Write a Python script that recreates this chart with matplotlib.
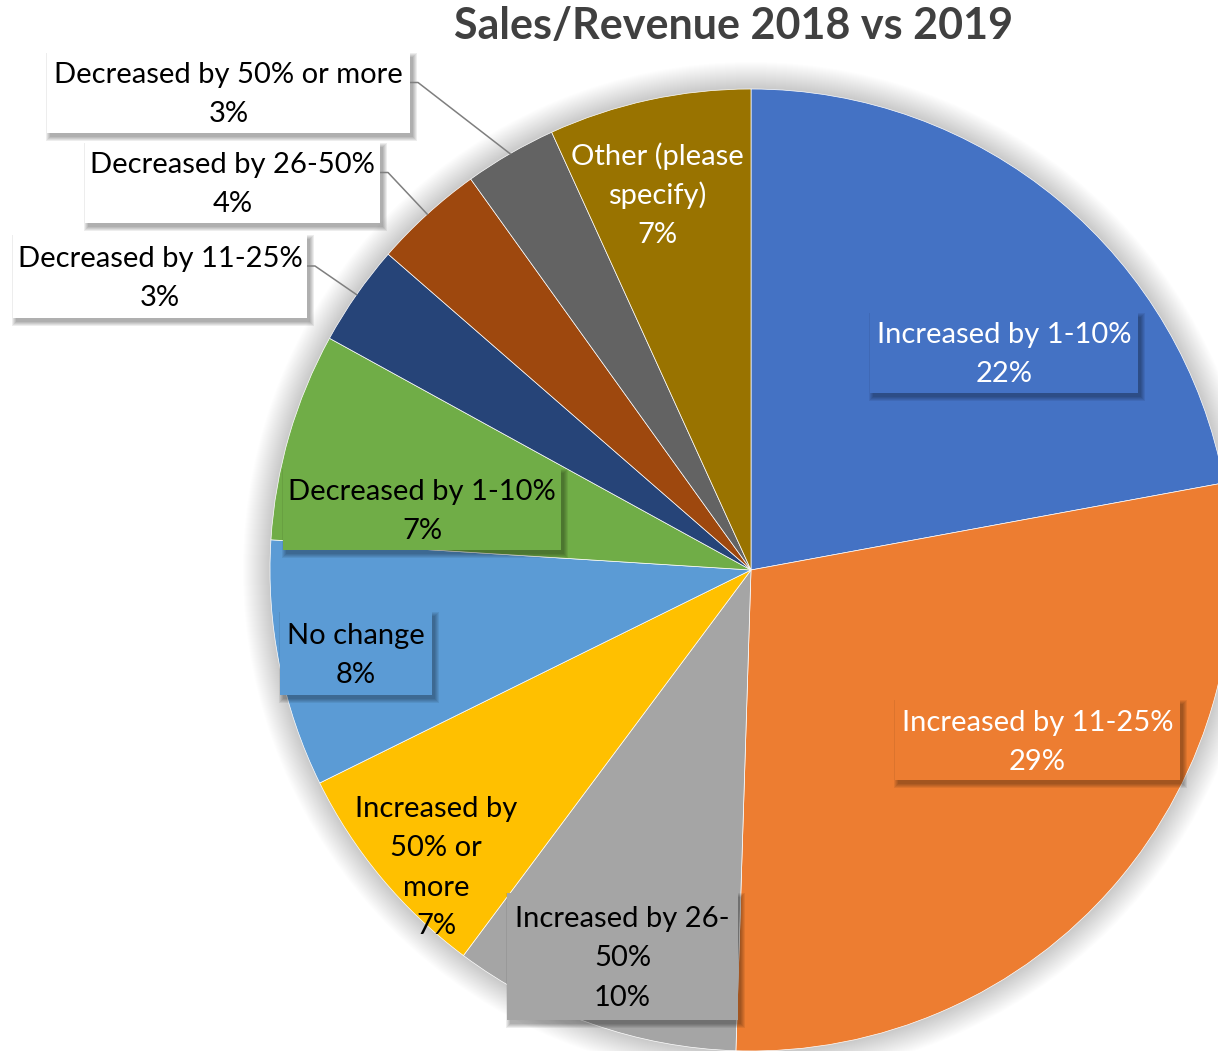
import matplotlib
matplotlib.use("Agg")
import numpy as np
from matplotlib import pyplot as plt
from matplotlib.patches import Circle, Rectangle

W, H = 1218, 1051
plt.rcParams['font.family'] = ['Lato', 'DejaVu Sans']

# data (clockwise from 12 o'clock)
categories = [
    "Increased by 1-10%", "Increased by 11-25%", "Increased by 26-50%",
    "Increased by 50% or more", "No change", "Decreased by 1-10%",
    "Decreased by 11-25%", "Decreased by 26-50%", "Decreased by 50% or more",
    "Other (please specify)",
]
shares = [22.1, 28.4, 9.7, 7.5, 8.3, 7.0, 3.4, 3.7, 3.1, 6.8]
pct_labels = ["22%", "29%", "10%", "7%", "8%", "7%", "3%", "4%", "3%", "7%"]
colors = ["#4472C4", "#ED7D31", "#A5A5A5", "#FFC000", "#5B9BD5",
          "#70AD47", "#264478", "#9E480E", "#636363", "#997300"]

# how Excel wrapped the longer labels
wrapped = {
    "Increased by 26-50%": "Increased by 26-\n50%",
    "Increased by 50% or more": "Increased by\n50% or\nmore",
    "Other (please specify)": "Other (please\nspecify)",
}

# label layout in image pixels: box (x0, y0, x1, y1) or None, text centre, fill, text colour
layout = [
    ((870, 313, 1138, 393), None, "slice", "white"),
    ((895, 700, 1180, 780), None, "slice", "white"),
    ((507, 893, 738, 1020), None, "slice", "black"),
    (None, (436, 866), None, "black"),
    ((280, 612, 432, 695), None, "slice", "black"),
    ((283, 469, 561, 550), None, "slice", "black"),
    ((13, 235, 307, 318), None, "white", "black"),
    ((85, 143, 380, 223), None, "white", "black"),
    ((47, 53, 410, 133), None, "white", "black"),
    (None, (657, 194), None, "white"),
]
outside = [6, 7, 8]


def Y(y):
    return H - y


fig = plt.figure(figsize=(W / 100, H / 100), dpi=100)
ax = fig.add_axes([0, 0, 1, 1])

CX, CY, R = 751, Y(570), 481

# soft glow around the pie
for k in range(1, 28):
    ax.add_patch(Circle((CX, CY), R + k, color='black', alpha=0.008, lw=0, zorder=0))

wedges, _ = ax.pie(shares, colors=colors, startangle=90, counterclock=False,
                   radius=R, center=(CX, CY), frame=True,
                   wedgeprops=dict(edgecolor='white', linewidth=0.5))
for w in wedges:
    w.set_zorder(1)

LINE = 39
FS = 21

for i, (cat, pct) in enumerate(zip(categories, pct_labels)):
    box, centre, fill, tcolor = layout[i]
    text = wrapped.get(cat, cat) + "\n" + pct
    lines = text.split("\n")
    if box is not None:
        x0, y0, x1, y1 = box
        fc = colors[i] if fill == "slice" else fill
        for k in range(5):
            ax.add_patch(Rectangle((x0 + 3 - k, Y(y1) - 4 - k), (x1 - x0) + 2 * k,
                                   (y1 - y0) + 2 * k, color='black', alpha=0.07,
                                   lw=0, zorder=2))
        ax.add_patch(Rectangle((x0, Y(y1)), x1 - x0, y1 - y0, color=fc, lw=0, zorder=3))
        cx, cy = (x0 + x1) / 2, (y0 + y1) / 2
    else:
        cx, cy = centre
    first = cy - LINE * (len(lines) - 1) / 2
    for j, ln in enumerate(lines):
        ax.text(cx, Y(first + j * LINE + 10), ln, ha='center', va='baseline',
                fontsize=FS, color=tcolor, zorder=4)
    if i in outside:
        w = wedges[i]
        mid = np.deg2rad((w.theta1 + w.theta2) / 2)
        ex, ey = CX + R * np.cos(mid), CY + R * np.sin(mid)
        ly = Y(first + 9)
        ax.plot([box[2], box[2] + 8, ex], [ly, ly, ey], color='#7f7f7f', lw=1.1, zorder=2)

ax.text(734, Y(26), "Sales/Revenue 2018 vs 2019", ha='center', va='center',
        fontsize=31, fontweight='bold', color='#404040')

ax.set_xlim(0, W)
ax.set_ylim(0, H)
ax.set_aspect('equal')
ax.axis('off')

plt.savefig("out.png", dpi=100)
plt.close()
